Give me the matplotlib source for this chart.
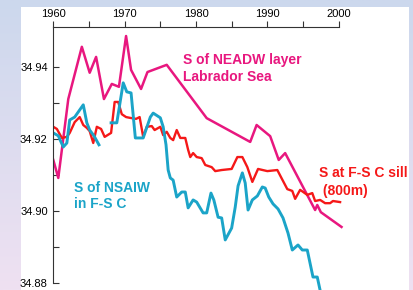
import numpy as np
import matplotlib
matplotlib.use('Agg')
import matplotlib.pyplot as plt
from matplotlib.patches import Rectangle
from matplotlib.colors import LinearSegmentedColormap

plt.rcParams['font.family'] = ['Liberation Sans', 'DejaVu Sans']

# NEADW layer, Labrador Sea
neadw_year = [1960.0, 1960.7, 1962.1, 1964.0, 1965.1, 1966.0, 1967.1, 1968.2, 1969.2,
              1970.2, 1970.9, 1972.3, 1973.2, 1975.9, 1981.5, 1987.6, 1988.5, 1990.4,
              1991.6, 1992.5, 1996.7, 1997.0, 1997.5, 2000.4]
neadw_s = [34.9141, 34.9091, 34.9310, 34.9455, 34.9383, 34.9427, 34.9310, 34.9352, 34.9344,
           34.9485, 34.9391, 34.9338, 34.9385, 34.9405, 34.9257, 34.9191, 34.9238, 34.9207,
           34.9141, 34.9160, 34.9002, 34.9016, 34.8996, 34.8955]

# salinity at Faroe-Shetland Channel sill (800 m)
sill_year = [1960.0, 1960.5, 1961.2, 1961.9, 1962.3, 1963.0, 1963.7, 1964.2, 1964.7, 1965.1,
             1965.6, 1966.1, 1966.7, 1967.2, 1968.1, 1968.6, 1969.1, 1969.6, 1970.2, 1970.7,
             1971.6, 1972.1, 1972.6, 1973.1, 1973.8, 1974.2, 1975.0, 1975.4, 1975.9, 1976.4,
             1976.8, 1977.3, 1977.8, 1978.5, 1978.9, 1979.2, 1979.6, 1980.1, 1980.8, 1981.3,
             1982.2, 1982.7, 1983.6, 1985.0, 1985.8, 1986.5, 1987.2, 1987.9, 1988.7, 1990.0,
             1991.4, 1991.9, 1992.8, 1993.5, 1993.9, 1994.6, 1995.6, 1996.3, 1996.7, 1997.4,
             1998.1, 1998.8, 1999.2, 2000.2]
sill_s = [34.9233, 34.9227, 34.9202, 34.9205, 34.9216, 34.9246, 34.9260, 34.9238, 34.9230, 34.9221,
          34.9188, 34.9233, 34.9227, 34.9205, 34.9216, 34.9302, 34.9302, 34.9268, 34.9260, 34.9258,
          34.9255, 34.9260, 34.9205, 34.9233, 34.9235, 34.9224, 34.9233, 34.9210, 34.9219, 34.9202,
          34.9196, 34.9224, 34.9202, 34.9202, 34.9169, 34.9149, 34.9160, 34.9149, 34.9146, 34.9127,
          34.9121, 34.9110, 34.9113, 34.9116, 34.9149, 34.9149, 34.9121, 34.9080, 34.9116, 34.9110,
          34.9113, 34.9094, 34.9060, 34.9055, 34.9033, 34.9058, 34.9044, 34.9049, 34.9027, 34.9030,
          34.9021, 34.9021, 34.9027, 34.9024]

# NSAIW in F-S C (two pieces, gap in 1966-68)
nsaiw_year1 = [1960.0, 1960.7, 1961.4, 1961.9, 1962.3, 1963.0, 1964.2, 1964.7, 1965.1, 1965.7, 1966.4]
nsaiw_s1 = [34.9216, 34.9208, 34.9177, 34.9188, 34.9252, 34.9260, 34.9294, 34.9244, 34.9224, 34.9208, 34.9183]

nsaiw_year2 = [1968.1, 1968.9, 1969.8, 1970.3, 1970.9, 1971.5, 1972.6, 1973.6, 1974.0, 1975.0,
               1975.4, 1975.8, 1976.1, 1976.4, 1976.8, 1977.3, 1978.0, 1978.5, 1978.9, 1979.6,
               1980.1, 1981.0, 1981.5, 1982.1, 1982.5, 1983.1, 1983.6, 1984.1, 1985.0, 1985.5,
               1985.9, 1986.5, 1986.9, 1987.3, 1987.9, 1988.6, 1989.3, 1989.7, 1990.2, 1990.8,
               1991.5, 1992.2, 1992.9, 1993.5, 1994.3, 1994.9, 1995.6, 1996.4, 1997.0, 1997.5]
nsaiw_s2 = [34.9244, 34.9244, 34.9355, 34.9330, 34.9327, 34.9202, 34.9202, 34.9260, 34.9271, 34.9258,
            34.9233, 34.9183, 34.9113, 34.9091, 34.9085, 34.9038, 34.9052, 34.9052, 34.9008, 34.9030,
            34.9024, 34.8994, 34.8994, 34.9049, 34.9030, 34.8982, 34.8980, 34.8919, 34.8952, 34.9010,
            34.9069, 34.9105, 34.9077, 34.9002, 34.9030, 34.9041, 34.9066, 34.9063, 34.9038, 34.9019,
            34.9005, 34.8980, 34.8938, 34.8891, 34.8905, 34.8891, 34.8891, 34.8816, 34.8816, 34.8770]

pink = '#e8177f'
red = '#f51818'
cyan = '#1ba4c8'

fig = plt.figure(figsize=(4.13, 2.90), dpi=100)

# slide background: blue-ish at the top fading to lavender
bg = fig.add_axes([0, 0, 1, 1], zorder=-10)
grad = LinearSegmentedColormap.from_list('bg', ['#ccd8ed', '#efe1f2'])
bg.imshow(np.linspace(0, 1, 256).reshape(-1, 1), cmap=grad, aspect='auto', extent=[0, 1, 0, 1])
bg.axis('off')

panel = Rectangle((21 / 413, 0), 388 / 413, 283 / 290, transform=fig.transFigure,
                  facecolor='white', edgecolor='none', zorder=-5)
fig.patches.append(panel)

ax = fig.add_axes([53.3 / 413, 0, 292.5 / 413, 1 - 27 / 290])
ax.set_facecolor('none')

ax.plot(neadw_year, neadw_s, color=pink, lw=1.8)
ax.plot(sill_year, sill_s, color=red, lw=1.7)
ax.plot(nsaiw_year1, nsaiw_s1, color=cyan, lw=2.1)
ax.plot(nsaiw_year2, nsaiw_s2, color=cyan, lw=2.1)

ax.set_xlim(1960, 2001)
ax.set_ylim(34.878, 34.951)

ax.spines['right'].set_visible(False)
ax.spines['bottom'].set_visible(False)
ax.spines['top'].set_bounds(1960, 2000)
ax.spines['left'].set_bounds(34.88, 34.951)
for s in ('top', 'left'):
    ax.spines[s].set_linewidth(0.8)
    ax.spines[s].set_color('#333333')

ax.xaxis.tick_top()
ax.set_xticks([1960, 1970, 1980, 1990, 2000])
ax.set_xticks([1965, 1975, 1985, 1995], minor=True)
ax.set_yticks([34.88, 34.90, 34.92, 34.94])
ax.set_yticks([34.89, 34.91, 34.93], minor=True)
ax.set_yticklabels(['34.88', '34.90', '34.92', '34.94'])
ax.tick_params(axis='x', which='both', direction='out', length=4.5, width=0.8,
               color='#333333', labelsize=8, pad=1.5)
ax.tick_params(axis='y', which='both', direction='in', length=4.5, width=0.8,
               color='#333333', labelsize=8, pad=4)

ax.text(1978.2, 34.9395, 'S of NEADW layer\nLabrador Sea', color=pink, fontsize=10,
        fontweight='bold', ha='left', va='center', linespacing=1.25)
ax.text(1962.9, 34.9041, 'S of NSAIW\nin F-S C', color=cyan, fontsize=10,
        fontweight='bold', ha='left', va='center', linespacing=1.2)
t = ax.text(1997.2, 34.9080, 'S at F-S C sill\n (800m)', color=red, fontsize=10,
            fontweight='bold', ha='left', va='center', linespacing=1.3)
t.set_clip_path(panel)
t.set_clip_on(True)

plt.savefig('out.png', dpi=100)
